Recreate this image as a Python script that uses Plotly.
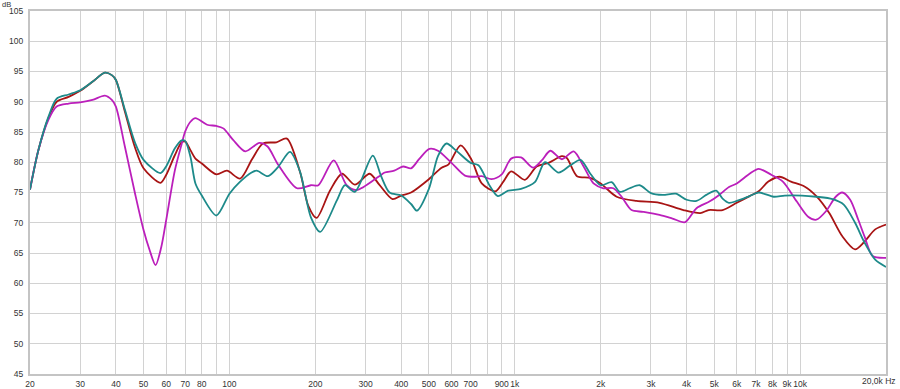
import plotly.graph_objects as go

# ---- data (frequency in Hz, level in dB) ----
red_f = [20, 21.4, 23.2, 24.8, 27.3, 30, 33.1, 36.6, 38.7, 40, 43, 46.7, 50, 57.3, 60, 64.4, 68, 70, 73, 76, 80, 90, 98, 109, 120, 131, 146, 159, 177, 189, 202, 225, 248, 275, 310, 335, 373, 400, 433, 500, 554, 585, 646, 706, 766, 855, 912, 971, 1085, 1193, 1313, 1463, 1522, 1652, 1840, 2000, 2275, 2670, 3215, 3900, 4470, 4780, 5350, 6000, 6650, 7160, 7740, 8480, 9290, 10360, 11400, 12650, 14040, 15580, 16830, 18330, 20000]
red_db = [75.5, 82, 87.3, 90.0, 90.8, 91.8, 93.3, 94.8, 94.4, 93.6, 88.4, 82.4, 79.0, 76.6, 77.9, 81.2, 83.3, 83.4, 82.0, 80.6, 79.8, 78.0, 78.6, 77.3, 80.5, 83.1, 83.3, 83.9, 78.3, 72.8, 70.8, 75.3, 78.1, 76.3, 78.1, 76.3, 73.9, 74.5, 75.0, 77.2, 79.1, 79.6, 82.8, 80.4, 76.5, 75.2, 76.8, 78.5, 77.1, 79.3, 79.9, 81.0, 80.7, 77.7, 77.4, 76.5, 74.3, 73.6, 73.3, 72.1, 71.6, 72.1, 72.1, 73.3, 74.4, 75.2, 76.8, 77.6, 76.8, 76.0, 74.4, 71.6, 67.8, 65.6, 66.9, 68.9, 69.7]

teal_f = [20, 21.4, 23.2, 24.8, 27.3, 30, 33.1, 36.6, 38.7, 40, 43, 46.7, 50, 57.3, 60, 64.4, 68, 70, 73, 76, 80, 90, 100, 108.6, 119.6, 124.6, 136.4, 148, 163, 176.6, 193, 208, 238, 254, 275, 318, 340, 364, 400, 433, 454, 500, 538, 576, 624, 700, 746, 817, 872, 948, 1052, 1176, 1276, 1425, 1565, 1700, 1840, 2000, 2185, 2336, 2527, 2740, 3000, 3300, 3667, 4000, 4335, 4690, 5080, 5350, 5634, 6000, 6650, 7160, 8080, 8830, 10140, 11400, 13000, 14220, 15580, 16830, 18330, 20000]
teal_db = [75.5, 82, 87.5, 90.5, 91.2, 91.9, 93.3, 94.8, 94.4, 93.6, 88.7, 83.2, 80.4, 78.2, 79.3, 82.3, 83.6, 83.5, 80.9, 76.5, 74.5, 71.2, 74.8, 76.7, 78.3, 78.6, 77.7, 79.2, 81.7, 78.5, 70.9, 68.5, 73.7, 76.2, 75.1, 81.1, 77.7, 75.0, 74.5, 73.1, 72.0, 75.6, 81.0, 83.1, 81.9, 79.9, 79.5, 76.1, 74.4, 75.3, 75.6, 76.7, 80.0, 78.3, 79.5, 80.4, 78.1, 76.2, 76.7, 75.1, 75.7, 76.2, 74.9, 74.6, 74.8, 73.8, 73.6, 74.6, 75.3, 74.0, 73.3, 73.6, 74.4, 75.0, 74.3, 74.5, 74.5, 74.3, 73.9, 73.0, 70.0, 66.7, 63.9, 62.7]

mag_f = [20, 21.4, 23.2, 24.8, 27.3, 30, 33.1, 36.6, 38.7, 40, 43, 46.7, 50, 52.5, 55.1, 57.7, 60, 64.4, 68, 70, 73, 76, 83.5, 90, 95.2, 103, 113.6, 127.3, 136, 148.2, 172.5, 193, 205, 232, 257.6, 279, 335, 350, 378, 406, 433, 462, 502, 538, 600, 669, 727, 766, 829, 900, 971, 1052, 1160, 1243, 1332, 1463, 1609, 1743, 1888, 2045, 2215, 2368, 2566, 2816, 3215, 3571, 3953, 4335, 4810, 5206, 5634, 6000, 6650, 7160, 7950, 8700, 9740, 10670, 11400, 12320, 13330, 14040, 14980, 15990, 16830, 17960, 20000]
mag_db = [75.5, 82, 87, 89.2, 89.7, 89.9, 90.3, 91.0, 90.3, 89.2, 82.6, 74.8, 68.8, 65.5, 63.0, 66.0, 70.4, 78.7, 83.0, 85.1, 86.7, 87.3, 86.2, 86.0, 85.6, 83.7, 81.8, 83.2, 82.6, 79.6, 75.7, 76.2, 76.2, 80.3, 76.2, 75.4, 77.7, 78.3, 78.6, 79.3, 79.0, 80.5, 82.2, 81.9, 79.9, 77.8, 77.6, 77.7, 77.2, 78.0, 80.6, 80.8, 79.1, 80.3, 81.9, 80.5, 81.8, 79.3, 76.5, 75.7, 75.7, 74.3, 72.1, 71.8, 71.3, 70.7, 70.1, 72.4, 73.5, 74.6, 75.9, 76.5, 78.1, 78.9, 77.9, 76.8, 73.5, 71.0, 70.5, 71.9, 74.3, 75.0, 73.8, 70.5, 67.7, 64.5, 64.2]

x_tickvals = [20, 30, 40, 50, 60, 70, 80, 90, 100, 200, 300, 400, 500, 600, 700, 800, 900, 1000,
              2000, 3000, 4000, 5000, 6000, 7000, 8000, 9000, 10000, 20000]
x_ticktext = ["20", "30", "40", "50", "60", "70", "80", "", "100", "200", "300", "400", "500", "600",
              "700", "", "900", "1k", "2k", "3k", "4k", "5k", "6k", "7k", "8k", "9k", "10k", ""]
y_tickvals = [45, 50, 55, 60, 65, 70, 75, 80, 85, 90, 95, 100, 105]

series = [
    ("red", red_f, red_db, "#a81414"),
    ("magenta", mag_f, mag_db, "#bb1fbb"),
    ("teal", teal_f, teal_db, "#1d8a8a"),
]

fig = go.Figure()
for name, f, db, col in series:
    fig.add_trace(go.Scatter(x=f, y=db, mode="lines", name=name,
                             line=dict(color=col, width=1.8, shape="spline", smoothing=0.8),
                             hoverinfo="skip"))

font = dict(family="Liberation Sans, Arial, sans-serif", size=8.5, color="#333333")

fig.update_layout(
    width=900, height=389,
    margin=dict(l=30, r=14, t=11, b=15),
    paper_bgcolor="white", plot_bgcolor="white",
    showlegend=False,
    font=font,
)
fig.update_xaxes(type="log", range=[1.30103, 4.30103], tickvals=x_tickvals, ticktext=x_ticktext,
                 tickangle=0,
                 showgrid=True, gridcolor="#d2d2d2", gridwidth=1,
                 showline=True, linecolor="#c4c4c4", linewidth=2, mirror=True,
                 ticks="", ticklabelstandoff=1, zeroline=False, automargin=False, tickfont=font)
fig.update_yaxes(range=[45, 105], tickvals=y_tickvals,
                 showgrid=True, gridcolor="#d2d2d2", gridwidth=1,
                 showline=True, linecolor="#c4c4c4", linewidth=2, mirror=True,
                 ticks="", ticklabelstandoff=3, zeroline=False, automargin=False, tickfont=font)

fig.add_annotation(text="dB", xref="paper", yref="paper", x=-0.0275, y=1.0325,
                   xanchor="center", yanchor="top", showarrow=False,
                   font=dict(family="Liberation Sans, Arial, sans-serif", size=7.5, color="#333333"),
                   borderpad=0)
fig.add_annotation(text="20,0k Hz", xref="paper", yref="paper", x=1.0128, y=-0.0195,
                   xanchor="right", yanchor="middle", showarrow=False, font=font, borderpad=0)

fig.write_html("out.html")
